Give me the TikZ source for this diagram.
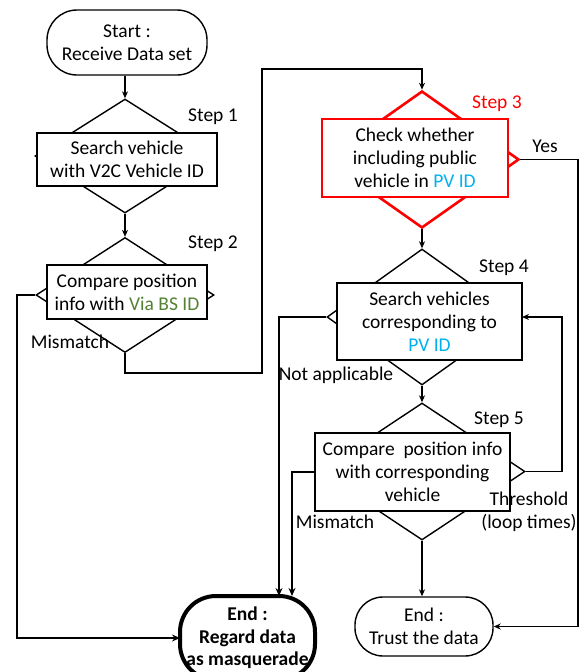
\documentclass[tikz,border=0pt]{standalone}
\usepackage{fontspec}
\setmainfont{Carlito}
\usetikzlibrary{shapes.geometric,arrows.meta,calc}
\definecolor{vgreen}{HTML}{548235}
\definecolor{pvblue}{HTML}{00B0F0}
\definecolor{sred}{HTML}{FF0000}
\begin{document}
\begin{tikzpicture}[x=1pt,y=-1pt,
  every node/.style={font=\fontsize{19.5}{23}\selectfont, inner sep=0pt},
  dia/.style={diamond, draw, line width=1.4pt, minimum width=#1},
  box/.style={draw, fill=white, line width=1.4pt, align=center},
  term/.style={draw, line width=1.4pt, align=center},
  lbl/.style={align=center},
  conn/.style={line width=1.4pt, -{Stealth[length=7pt,width=6pt]}},
  tconn/.style={line width=2.4pt, -{Stealth[length=8pt,width=7pt]}},
]
\useasboundingbox (0,0) rectangle (580,672);
% terminals
\node[term, minimum width=160, minimum height=65, rounded corners=30] (start) at (127,42.5) {Start :\\Receive Data set};
\node[term, minimum width=138, minimum height=59, rounded corners=28] (endT) at (424,626.5) {End :\\Trust the data};
\node[term, line width=4pt, minimum width=135, minimum height=84, rounded corners=36, font=\fontsize{19.5}{22.5}\selectfont\bfseries] (endM) at (247.5,638) {End :\\Regard data\\as masquerade};
% step 1
\node[dia=180, minimum height=114] (d1) at (125,156) {};
\node[box, minimum width=180, minimum height=53] (r1) at (127,159.5) {Search vehicle\\with V2C Vehicle ID};
% step 2
\node[dia=178, minimum height=115] (d2) at (125,295) {};
\node[box, minimum width=160, minimum height=54] (r2) at (127,292) {Compare position\\info with \textcolor{vgreen}{Via BS ID}};
% step 3
\node[dia=194, minimum height=137, draw=sred, line width=2.6pt] (d3) at (422,159.5) {};
\node[box, draw=sred, line width=2.6pt, minimum width=186, minimum height=78] (r3) at (415,158) {Check whether\\including public\\vehicle in \textcolor{pvblue}{PV ID}};
% step 4
\node[dia=190, minimum height=136] (d4) at (422,317) {};
\node[box, minimum width=185, minimum height=77] (r4) at (429.5,321.5) {Search vehicles\\corresponding to\\\textcolor{pvblue}{PV ID}};
% step 5
\node[dia=206, minimum height=137] (d5) at (422,471.5) {};
\node[box, minimum width=195, minimum height=78] (r5) at (412.5,472) {Compare\ \ position info\\with corresponding\\vehicle};
% labels
\node[lbl] (s1) at (213,117) {Step 1};
\node[lbl] (s2) at (213,244) {Step 2};
\node[lbl, text=sred] (s3) at (497,104) {Step 3};
\node[lbl] (s4) at (504,268) {Step 4};
\node[lbl] (s5) at (499,420) {Step 5};
\node[lbl] (yes) at (545,146) {Yes};
\node[lbl] (na) at (336,375) {Not applicable};
\node[lbl] (mm1) at (70,342) {Mismatch};
\node[lbl] (mm2) at (335,522) {Mismatch};
\node[lbl] (thr) at (529,512) {Threshold\\(loop times)};
% connector waypoints
\coordinate (a1) at (125,373);
\coordinate (a2) at (262,373);
\coordinate (a3) at (262,69);
\coordinate (a4) at (422,69);
\coordinate (y1) at (578,159.5);
\coordinate (y2) at (578,626.5);
\coordinate (l1) at (562,471.5);
\coordinate (l2) at (562,317);
\coordinate (l3) at (522,317);
\coordinate (n1) at (279,317);
\coordinate (n2) at (279,596);
\coordinate (m1) at (292,472);
\coordinate (m2) at (292,596);
\coordinate (b1) at (17,295);
\coordinate (b2) at (17,638);
\coordinate (b3) at (180,638);
% connectors
\draw[conn] (start.south -| d1.north) -- (d1.north);
\draw[conn] (d1.south) -- (d2.north);
\draw[conn] (d2.south) -- (a1) -- (a2) -- (a3) -- (a4) -- (d3.north);
\draw[conn] (d3.south) -- (d4.north);
\draw[conn] (d4.south) -- (d5.north);
\draw[conn] (d5.south) -- (endT.north -| d5.south);
\draw[conn, line width=1.8pt] (d3.east) -- (y1) -- (y2) -- (endT.east);
\draw[conn] (d5.east) -- (l1) -- (l2) -- (l3);
\draw[tconn] (d4.west) -- (n1) -- (n2);
\draw[tconn] (r5.west |- m1) -- (m1) -- (m2);
\draw[tconn] (d2.west) -- (b1) -- (b2) -- (b3);
\end{tikzpicture}
\end{document}
